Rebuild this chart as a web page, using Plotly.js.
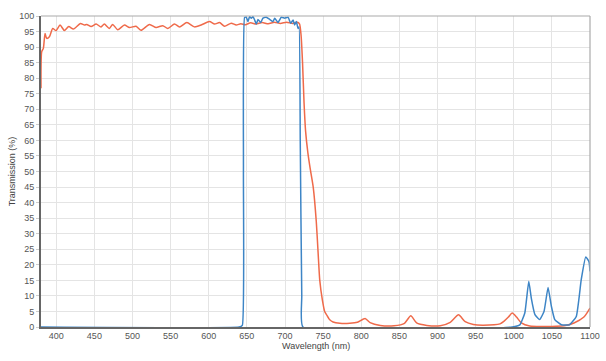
<!DOCTYPE html>
<html>
<head>
<meta charset="utf-8">
<script src="https://cdn.plot.ly/plotly-3.0.1.min.js"></script>
<style>html,body{margin:0;padding:0;background:#fff;}#chart{width:606px;height:361px;}</style>
</head>
<body>
<div id="chart"></div>
<script>
// Red curve (long-pass / broad transmission) — wavelength (nm) and transmission (%)
const redWavelength = [380, 380.9, 383.1, 385.3, 387.4, 391, 395.3, 399.7, 405, 410.7, 416.4, 422.5, 431.7, 437, 440, 445.7, 452.3,
  458.7, 463, 469.6, 474, 480.6, 489.4, 496, 504.7, 511.3, 522.2, 531, 539.7, 546.3, 555.1, 561.6, 571.3, 581.3, 590.1, 601, 607.6, 614.2, 620.7, 629.5, 636,
  642, 648, 655, 662, 670, 678, 686, 694, 702, 710, 716, 719, 721, 723, 725, 727, 730, 733, 737, 741, 743.4, 745.6, 749, 752, 754.4, 758.7, 763,
  772, 785, 795, 805, 811.6, 825, 843, 856.7, 865, 872.6, 886, 903.6, 916.7, 927.6, 936.3, 947, 960, 982, 987, 993, 998, 1003.7, 1010, 1021, 1050, 1066, 1079, 1092, 1100];
const redTransmission = [76.8, 88.5, 89.6, 94.4, 92.8, 93.3, 96.0, 95.3, 97.1, 95.3, 96.6, 95.8, 97.6, 97.1, 97.3, 96.6, 97.4,
  96.5, 97.4, 96.0, 97.3, 95.6, 97.1, 96.3, 96.7, 95.4, 97.3, 96.3, 96.9, 96.0, 97.4, 96.5, 97.9, 96.5, 97.1, 98.2, 97.4, 97.9, 96.7, 97.7, 97.1,
  97.5, 97.2, 97.8, 97.4, 97.9, 97.5, 98.0, 97.6, 98.0, 97.6, 98.0, 97.5, 94, 85, 72, 63, 56, 51, 45, 34, 24, 15, 8.7, 5, 4, 2.3, 1.6,
  1.2, 1.2, 1.5, 2.7, 1.4, 0.5, 0.4, 1.2, 3.6, 1.3, 0.5, 0.4, 1.5, 3.9, 1.7, 0.8, 0.6, 1.0, 1.8, 3.2, 4.5, 3.2, 1.3, 0.3, 0.2, 0.4, 1.3, 3.2, 6.1];

// Blue curve (band-pass) — wavelength (nm) and transmission (%)
const blueWavelength = [380, 640, 644, 645.5, 647, 649.2, 651.4, 653.6, 655.8, 658.0, 660.2, 662.4, 664.6, 668.1, 671.1, 675.5, 679.9, 684.3, 686.5, 690.8, 695.2, 699.6, 704.0, 707.5, 710.6, 712.7, 714.9, 717.1, 718.4, 720, 722, 723.5,
  998, 1008, 1014.5, 1019.7, 1023, 1027.8, 1034, 1039.7, 1045, 1049.4, 1053.8, 1062.5, 1073, 1082, 1088.5, 1094.4, 1098.7, 1100];
const blueTransmission = [0, 0, 0.5, 50, 99.5, 99.6, 98.2, 99.8, 99.3, 99.8, 98.7, 97.4, 98.9, 97.9, 99.3, 99.6, 98.9, 98.2, 99.3, 97.9, 99.6, 99.3, 99.6, 97.7, 98.7, 97.1, 98.2, 96.0, 96.5, 60, 10, 0,
  0, 0.7, 4.5, 14.7, 9.3, 4.0, 2.4, 5.0, 12.7, 6.6, 2.4, 0.7, 0.7, 3.4, 15.2, 22.5, 21.0, 17.9];

const xTicks = [400, 450, 500, 550, 600, 650, 700, 750, 800, 850, 900, 950, 1000, 1050, 1100];
const yTicks = [0, 5, 10, 15, 20, 25, 30, 35, 40, 45, 50, 55, 60, 65, 70, 75, 80, 85, 90, 95, 100];
const xTitle = 'Wavelength (nm)';
const yTitle = 'Transmission (%)';

const traces = [
  {x: redWavelength, y: redTransmission, type: 'scatter', mode: 'lines',
   line: {color: '#ef6a4a', width: 1.5, shape: 'spline', smoothing: 0.6}, hoverinfo: 'skip'},
  {x: blueWavelength, y: blueTransmission, type: 'scatter', mode: 'lines',
   line: {color: '#3d85c6', width: 1.5, shape: 'spline', smoothing: 0.4}, hoverinfo: 'skip'}
];

const fontFam = 'Liberation Sans, Arial, sans-serif';
const tickFont = {family: fontFam, size: 9, color: '#555'};
const layout = {
  width: 606, height: 361,
  margin: {l: 41, r: 16, t: 16, b: 34},
  paper_bgcolor: '#fff', plot_bgcolor: '#fff',
  showlegend: false,
  xaxis: {
    range: [380, 1100], tickvals: xTicks, ticktext: xTicks.map(String),
    showgrid: true, gridcolor: '#e4e4e4', gridwidth: 1, zeroline: false,
    showline: true, linecolor: '#666', linewidth: 1.5,
    ticks: '',
    tickfont: tickFont,
    automargin: false
  },
  yaxis: {
    range: [0, 100], tickvals: yTicks, ticktext: yTicks.map(String),
    showgrid: true, gridcolor: '#e4e4e4', gridwidth: 1, zeroline: false,
    showline: true, linecolor: '#666', linewidth: 2,
    ticks: 'outside', ticklen: 3, tickcolor: '#ccc',
    tickfont: tickFont,
    automargin: false,
    title: {text: yTitle, font: {family: fontFam, size: 9, color: '#444'}, standoff: 2}
  },
  annotations: [
    {text: xTitle, xref: 'paper', yref: 'paper', x: 0.5, y: 0, yshift: -19, xanchor: 'center', yanchor: 'middle',
     showarrow: false, font: {family: fontFam, size: 9, color: '#444'}}
  ],
  shapes: [
    {type: 'line', xref: 'paper', yref: 'paper', x0: 0, x1: 1, y0: 1, y1: 1, line: {color: '#aaa', width: 1.2}},
    {type: 'line', xref: 'paper', yref: 'paper', x0: 1, x1: 1, y0: 0, y1: 1, line: {color: '#aaa', width: 1.2}}
  ]
};

Plotly.newPlot('chart', traces, layout, {staticPlot: true, displayModeBar: false});
</script>
</body>
</html>
